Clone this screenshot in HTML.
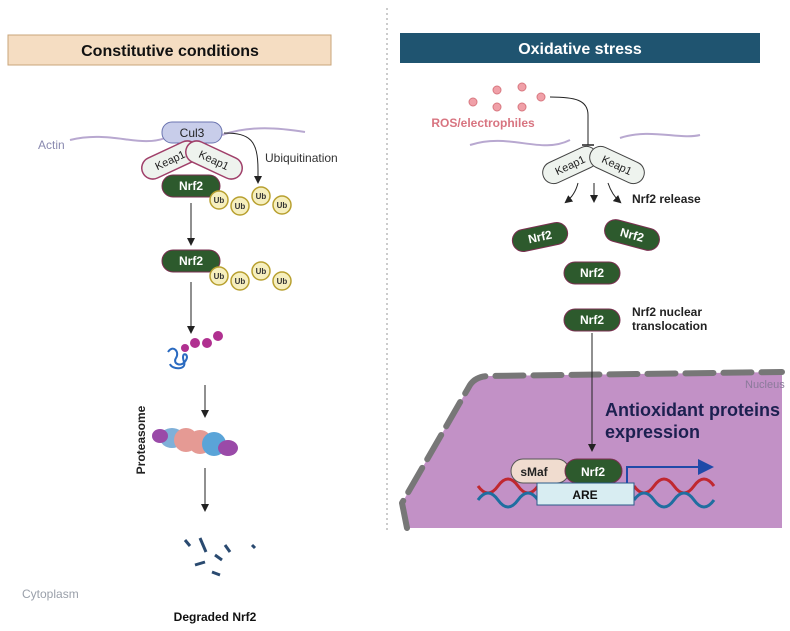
<!DOCTYPE html>
<html><head><meta charset="utf-8"><style>
body{margin:0;background:#fff}
svg{display:block;font-family:"Liberation Sans",sans-serif}
</style></head><body>
<svg width="790" height="631" viewBox="0 0 790 631">
<defs>
<marker id="ah" markerWidth="8" markerHeight="8" refX="6" refY="4" orient="auto"><path d="M0,0 L8,4 L0,8 z" fill="#222"/></marker>
<marker id="bh" markerWidth="8" markerHeight="8" refX="6" refY="4" orient="auto"><path d="M0,0 L8,4 L0,8 z" fill="#1f4aa8"/></marker>
</defs>
<line x1="387" y1="8" x2="387" y2="530" stroke="#999" stroke-dasharray="2,3"/>

<!-- LEFT -->
<g>
<rect x="8" y="35" width="323" height="30" fill="#f5ddc2" stroke="#c9a57a"/>
<text x="170" y="56" text-anchor="middle" font-size="16" font-weight="bold" fill="#111">Constitutive conditions</text></g>
<text x="38" y="149" font-size="12" fill="#8a8ab0">Actin</text>
<path d="M70,140 C110,130 140,148 165,138 M222,135 C250,125 280,128 305,132" stroke="#b8a8d0" stroke-width="2" fill="none"/>
<g><rect x="162" y="122" width="60" height="21" rx="10" fill="#c8cdea" stroke="#6b74b0"/><text x="192" y="137" text-anchor="middle" font-size="12" fill="#222">Cul3</text></g>
<g transform="rotate(-25 170 160)"><rect x="140" y="149" width="60" height="22" rx="11" fill="#eef3ee" stroke="#a0406a" stroke-width="1.5"/><text x="170" y="164" text-anchor="middle" font-size="11" fill="#222">Keap1</text></g>
<g transform="rotate(25 214 160)"><rect x="184" y="149" width="60" height="22" rx="11" fill="#eef3ee" stroke="#a0406a" stroke-width="1.5"/><text x="214" y="164" text-anchor="middle" font-size="11" fill="#222">Keap1</text></g>
<path d="M224,133 C250,133 258,140 258,170 L258,182" stroke="#222" fill="none" marker-end="url(#ah)"/>
<text x="265" y="162" font-size="12" fill="#333">Ubiquitination</text>
<g><rect x="162" y="175" width="58" height="22" rx="11" fill="#2d5a2d" stroke="#7a2f50"/><text x="191" y="190" text-anchor="middle" font-size="12" font-weight="bold" fill="#fff">Nrf2</text>
<g fill="#f6efbe" stroke="#b8a030" stroke-width="1.5">
<circle cx="219" cy="200" r="9"/><circle cx="240" cy="206" r="9"/><circle cx="261" cy="196" r="9"/><circle cx="282" cy="205" r="9"/></g>
<g font-size="8" font-weight="bold" fill="#333" text-anchor="middle"><text x="219" y="203">Ub</text><text x="240" y="209">Ub</text><text x="261" y="199">Ub</text><text x="282" y="208">Ub</text></g></g>
<line x1="191" y1="203" x2="191" y2="244" stroke="#222" marker-end="url(#ah)"/>
<g><rect x="162" y="250" width="58" height="22" rx="11" fill="#2d5a2d" stroke="#7a2f50"/><text x="191" y="265" text-anchor="middle" font-size="12" font-weight="bold" fill="#fff">Nrf2</text>
<g fill="#f6efbe" stroke="#b8a030" stroke-width="1.5"><circle cx="219" cy="276" r="9"/><circle cx="240" cy="281" r="9"/><circle cx="261" cy="271" r="9"/><circle cx="282" cy="281" r="9"/></g>
<g font-size="8" font-weight="bold" fill="#333" text-anchor="middle"><text x="219" y="279">Ub</text><text x="240" y="284">Ub</text><text x="261" y="274">Ub</text><text x="282" y="284">Ub</text></g></g>
<line x1="191" y1="282" x2="191" y2="332" stroke="#222" marker-end="url(#ah)"/>
<g>
<path d="M168,352 c5,-8 12,0 8,6 c-4,6 6,10 10,2 c4,-6 -6,-10 -2,2 c3,8 -12,8 -14,2" stroke="#2a6ac0" stroke-width="2" fill="none"/>
<circle cx="185" cy="348" r="4" fill="#b03090"/><circle cx="195" cy="343" r="5" fill="#b03090"/><circle cx="207" cy="343" r="5" fill="#b03090"/><circle cx="218" cy="336" r="5" fill="#b03090"/></g>
<line x1="205" y1="385" x2="205" y2="416" stroke="#222" marker-end="url(#ah)"/>
<text transform="translate(145 440) rotate(-90)" text-anchor="middle" font-size="12" font-weight="bold" fill="#222">Proteasome</text>
<g>
<ellipse cx="172" cy="438" rx="12" ry="10" fill="#7fb0d8"/><ellipse cx="186" cy="440" rx="12" ry="12" fill="#e59a94"/><ellipse cx="200" cy="442" rx="12" ry="12" fill="#e59a94"/><ellipse cx="214" cy="444" rx="12" ry="12" fill="#5aa4d8"/><ellipse cx="228" cy="448" rx="10" ry="8" fill="#9a4aa8"/><ellipse cx="160" cy="436" rx="8" ry="7" fill="#9a4aa8"/></g>
<line x1="205" y1="468" x2="205" y2="510" stroke="#222" marker-end="url(#ah)"/>
<g stroke="#2a4a70" stroke-width="3">
<line x1="185" y1="540" x2="190" y2="546"/><line x1="200" y1="538" x2="206" y2="552"/><line x1="215" y1="555" x2="222" y2="560"/><line x1="195" y1="565" x2="205" y2="562"/><line x1="225" y1="545" x2="230" y2="552"/><line x1="212" y1="572" x2="220" y2="575"/><line x1="252" y1="545" x2="255" y2="548"/></g>
<text x="22" y="598" font-size="12" fill="#9aa0aa">Cytoplasm</text>
<text x="215" y="621" text-anchor="middle" font-size="12" font-weight="bold" fill="#111">Degraded Nrf2</text>

<!-- RIGHT -->
<g>
<rect x="400" y="33" width="360" height="30" fill="#1f5470"/>
<text x="580" y="54" text-anchor="middle" font-size="16" font-weight="bold" fill="#fff">Oxidative stress</text></g>
<g fill="#f0a0a8" stroke="#d87880">
<circle cx="497" cy="90" r="4"/><circle cx="522" cy="87" r="4"/><circle cx="541" cy="97" r="4"/><circle cx="473" cy="102" r="4"/><circle cx="497" cy="107" r="4"/><circle cx="522" cy="107" r="4"/></g>
<text x="483" y="127" font-size="12" font-weight="bold" fill="#d87480" text-anchor="middle">ROS/electrophiles</text>
<path d="M470,145 C510,132 540,155 570,140 M620,138 C650,128 680,140 700,135" stroke="#b8a8d0" stroke-width="2" fill="none"/>
<path d="M550,97 C575,97 588,100 588,115 L588,145" stroke="#222" fill="none"/><line x1="582" y1="145" x2="594" y2="145" stroke="#222" stroke-width="1.5"/>
<g transform="rotate(-25 570 165)"><rect x="541" y="154" width="58" height="22" rx="11" fill="#eef3ee" stroke="#444"/><text x="570" y="169" text-anchor="middle" font-size="11" fill="#222">Keap1</text></g>
<g transform="rotate(25 617 165)"><rect x="588" y="154" width="58" height="22" rx="11" fill="#eef3ee" stroke="#444"/><text x="617" y="169" text-anchor="middle" font-size="11" fill="#222">Keap1</text></g>
<g stroke="#222" fill="none"><path d="M578,183 Q575,195 566,202" marker-end="url(#ah)"/><line x1="594" y1="183" x2="594" y2="201" marker-end="url(#ah)"/><path d="M608,183 Q612,195 620,202" marker-end="url(#ah)"/></g>
<text x="632" y="203" font-size="12" font-weight="bold" fill="#222">Nrf2 release</text>
<g transform="rotate(-12 540 237)"><rect x="512" y="226" width="56" height="22" rx="11" fill="#2d5a2d" stroke="#7a2f50"/><text x="540" y="241" text-anchor="middle" font-size="12" font-weight="bold" fill="#fff">Nrf2</text></g>
<g transform="rotate(15 632 235)"><rect x="604" y="224" width="56" height="22" rx="11" fill="#2d5a2d" stroke="#7a2f50"/><text x="632" y="239" text-anchor="middle" font-size="12" font-weight="bold" fill="#fff">Nrf2</text></g>
<g><rect x="564" y="262" width="56" height="22" rx="11" fill="#2d5a2d" stroke="#7a2f50"/><text x="592" y="277" text-anchor="middle" font-size="12" font-weight="bold" fill="#fff">Nrf2</text></g>
<g><rect x="564" y="309" width="56" height="22" rx="11" fill="#2d5a2d" stroke="#7a2f50"/><text x="592" y="324" text-anchor="middle" font-size="12" font-weight="bold" fill="#fff">Nrf2</text></g>
<text x="632" y="316" font-size="12" font-weight="bold" fill="#222"><tspan x="632">Nrf2 nuclear</tspan><tspan x="632" dy="14">translocation</tspan></text>
<g>
<path d="M407,528 L402,503 L470,385 Q476,376 490,376 L782,372 L782,528 Z" fill="#c291c6"/>
<path d="M407,528 L402,503 L470,385 Q476,376 490,376 L782,372" fill="none" stroke="#777" stroke-width="6" stroke-dasharray="28,10" stroke-linejoin="round" stroke-linecap="round"/>
</g>
<text x="745" y="388" font-size="11" fill="#8a7a9a">Nucleus</text>
<line x1="592" y1="333" x2="592" y2="450" stroke="#222" marker-end="url(#ah)"/>
<text x="605" y="416" font-size="18" font-weight="bold" fill="#1c2050"><tspan x="605">Antioxidant proteins</tspan><tspan x="605" dy="22">expression</tspan></text>
<g fill="none" stroke-width="3">
<path d="M478,486 q10,14 20,0 t20,0 t20,0 M634,486 q10,14 20,0 t20,0 t20,0 t20,0" stroke="#c02830"/>
<path d="M478,500 q10,-14 20,0 t20,0 t20,0 M634,500 q10,-14 20,0 t20,0 t20,0 t20,0" stroke="#1f6ea0"/></g>
<g><rect x="511" y="459" width="58" height="24" rx="12" fill="#f0dccf" stroke="#555"/><text x="534" y="476" text-anchor="middle" font-size="12" font-weight="bold" fill="#222">sMaf</text></g>
<g><rect x="565" y="459" width="57" height="24" rx="12" fill="#2d5a2d" stroke="#7a2f50"/><text x="593" y="476" text-anchor="middle" font-size="12" font-weight="bold" fill="#fff">Nrf2</text></g>
<g><rect x="537" y="483" width="97" height="22" fill="#d8edf2" stroke="#2a5a8a"/><text x="585" y="499" text-anchor="middle" font-size="12" font-weight="bold" fill="#111">ARE</text></g>
<path d="M627,483 L627,467 L710,467" stroke="#1f4aa8" stroke-width="2" fill="none" marker-end="url(#bh)"/>
</svg>
</body></html>
